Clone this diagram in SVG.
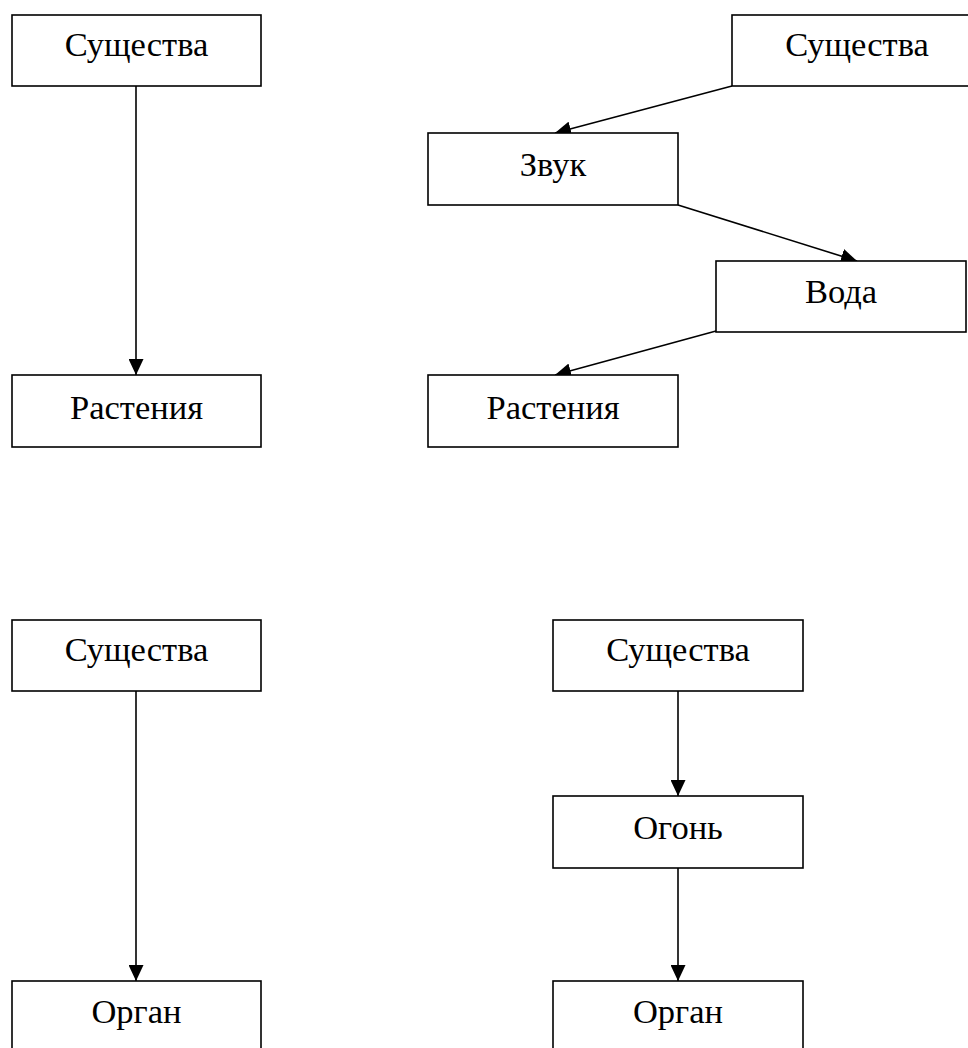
<svg xmlns="http://www.w3.org/2000/svg" width="968" height="1048" viewBox="0 0 968 1048">
<style>
.box{fill:#fff;stroke:#000;stroke-width:1.6}
.lbl{font-family:"Liberation Serif","Times New Roman",serif;font-size:34.5px;fill:#000;text-anchor:middle}
.edge{stroke:#000;stroke-width:1.6;fill:none;marker-end:url(#ah)}
</style>
<defs>
<marker id="ah" viewBox="0 0 16 15" refX="16" refY="7.5" markerWidth="16" markerHeight="15" markerUnits="userSpaceOnUse" orient="auto">
<path d="M0,0 L16,7.5 L0,15 Z" fill="#000"/>
</marker>
</defs>
<rect width="968" height="1048" fill="#fff"/>
<g id="connectors">
<line class="edge" x1="136" y1="86" x2="136" y2="375"/>
<line class="edge" x1="732" y1="86" x2="555" y2="133"/>
<line class="edge" x1="678" y1="205" x2="857" y2="261"/>
<line class="edge" x1="716" y1="331" x2="555" y2="375"/>
<line class="edge" x1="136" y1="691" x2="136" y2="981"/>
<line class="edge" x1="678" y1="691" x2="678" y2="796"/>
<line class="edge" x1="678" y1="868" x2="678" y2="981"/>
</g>
<g id="n1"><rect class="box" x="12" y="15" width="249" height="71"/><text class="lbl" x="136.5" y="56">Существа</text></g>
<g id="n2"><rect class="box" x="12" y="375" width="249" height="72"/><text class="lbl" x="136.5" y="419">Растения</text></g>
<g id="n3"><rect class="box" x="732" y="15" width="250" height="71"/><text class="lbl" x="857" y="56">Существа</text></g>
<g id="n4"><rect class="box" x="428" y="133" width="250" height="72"/><text class="lbl" x="553" y="176">Звук</text></g>
<g id="n5"><rect class="box" x="716" y="261" width="250" height="71"/><text class="lbl" x="841" y="303">Вода</text></g>
<g id="n6"><rect class="box" x="428" y="375" width="250" height="72"/><text class="lbl" x="553" y="419">Растения</text></g>
<g id="n7"><rect class="box" x="12" y="620" width="249" height="71"/><text class="lbl" x="136.5" y="661">Существа</text></g>
<g id="n8"><rect class="box" x="12" y="981" width="249" height="72"/><text class="lbl" x="136.5" y="1023">Орган</text></g>
<g id="n9"><rect class="box" x="553" y="620" width="250" height="71"/><text class="lbl" x="678" y="661">Существа</text></g>
<g id="n10"><rect class="box" x="553" y="796" width="250" height="72"/><text class="lbl" x="678" y="839">Огонь</text></g>
<g id="n11"><rect class="box" x="553" y="981" width="250" height="72"/><text class="lbl" x="678" y="1023">Орган</text></g>
</svg>
